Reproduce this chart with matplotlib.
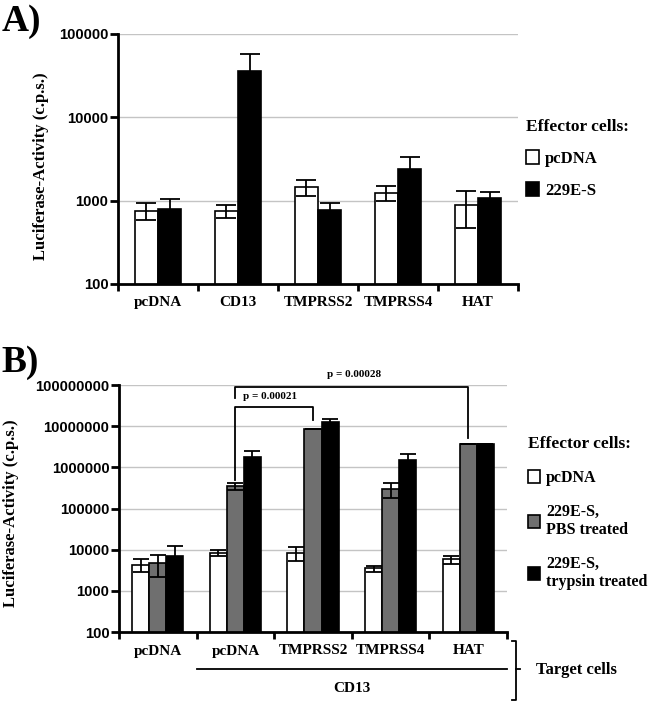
import numpy as np
import matplotlib.pyplot as plt
import matplotlib.transforms as mtransforms

# Panel A data
cats_a = ["pcDNA", "CD13", "TMPRSS2", "TMPRSS4", "HAT"]
a_pcdna = [760, 750, 1450, 1230, 890]
a_pcdna_err = [180, 130, 320, 250, 420]
a_229e = [800, 36000, 770, 2420, 1080]
a_229e_err = [250, 20800, 160, 940, 190]

# Panel B data
cats_b = ["pcDNA", "pcDNA", "TMPRSS2", "TMPRSS4", "HAT"]
b_pcdna = [4300, 8500, 8500, 3500, 5800]
b_pcdna_err = [1500, 1300, 3300, 600, 1200]
b_pbs = [4800, 350000, 8700000, 300000, 3600000]
b_pbs_err = [2600, 70000, 0, 125000, 0]
b_tryp = [7200, 1800000, 12400000, 1500000, 3600000]
b_tryp_err = [5000, 700000, 2600000, 600000, 0]

SERIF = "Liberation Serif"
SANS = "Liberation Sans"
GRAY = "#6f6f6f"

fig = plt.figure(figsize=(6.5, 7.01), dpi=100)


def style_axis(ax, n, ymin, ymax, cats, label_xy):
    ax.set_yscale("log")
    ax.set_ylim(ymin, ymax)
    ax.set_xlim(-0.5, n - 0.5)
    for s in ["top", "right"]:
        ax.spines[s].set_visible(False)
    for s in ["left", "bottom"]:
        ax.spines[s].set_linewidth(2)
    decades = 10.0 ** np.arange(np.log10(ymin), np.log10(ymax) + 1)
    ax.set_yticks(decades)
    ax.set_yticklabels([str(int(d)) for d in decades])
    ax.yaxis.set_minor_locator(plt.NullLocator())
    ax.tick_params(axis="y", direction="out", length=6, width=2, pad=1)
    for lab in ax.get_yticklabels():
        lab.set_fontfamily(SANS)
        lab.set_fontweight("bold")
        lab.set_fontsize(10.7)
    for d in decades[1:]:
        ax.axhline(d, color="#c4c4c4", lw=1, zorder=0)
    ax.set_xticks(np.arange(n + 1) - 0.5)
    ax.set_xticklabels([])
    ax.tick_params(axis="x", which="major", direction="out", length=5, width=2)
    ax.set_xticks(np.arange(n), minor=True)
    ax.set_xticklabels(cats, minor=True, fontfamily=SERIF, fontweight="bold",
                       fontsize=11)
    ax.tick_params(axis="x", which="minor", length=0, pad=9)
    ax.set_ylabel("Luciferase-Activity (c.p.s.)", fontfamily=SERIF,
                  fontweight="bold", fontsize=12)
    ax.yaxis.set_label_coords(*label_xy)


# ---------- A ----------
axA = fig.add_axes([118 / 650, 1 - 284 / 701, 400 / 650, 250 / 701])
x = np.arange(len(cats_a))
w = 0.29
ekw = dict(elinewidth=1.3, capthick=1.3, ecolor="black")
b1 = axA.bar(x - w / 2, a_pcdna, w, yerr=a_pcdna_err, color="white",
             edgecolor="black", lw=1.2, capsize=7, error_kw=ekw, label="pcDNA", zorder=2)
b2 = axA.bar(x + w / 2, a_229e, w, yerr=a_229e_err, color="black",
             edgecolor="black", lw=1.2, capsize=7, error_kw=ekw, label="229E-S", zorder=2)
style_axis(axA, 5, 100, 100000, cats_a, (-0.1725, 0.472))
axA.legend(handles=[b1, b2], title="Effector cells:", loc="upper left",
           bbox_to_anchor=(1.02, 0.659), frameon=False, borderpad=0,
           prop=dict(family=SERIF, weight="bold", size=12),
           title_fontproperties=dict(family=SERIF, weight="bold", size=12.5),
           alignment="left", handlelength=0.75, handleheight=0.9,
           handletextpad=0.4, labelspacing=0.9, borderaxespad=0)
fig.text(0.002, 1 - 31 / 701, "A)", fontfamily=SERIF, fontweight="bold",
         fontsize=27, va="baseline")

# ---------- B ----------
axB = fig.add_axes([119 / 650, 1 - 632 / 701, 388 / 650, 247 / 701])
x = np.arange(len(cats_b))
w = 0.22
c1 = axB.bar(x - w, b_pcdna, w, yerr=b_pcdna_err, color="white",
             edgecolor="black", lw=1.2, capsize=5.5, error_kw=ekw, label="pcDNA", zorder=2)
c2 = axB.bar(x, b_pbs, w, yerr=b_pbs_err, color=GRAY, edgecolor="black",
             lw=1.2, capsize=5.5, error_kw=ekw, label="229E-S,\nPBS treated", zorder=2)
c3 = axB.bar(x + w, b_tryp, w, yerr=b_tryp_err, color="black",
             edgecolor="black", lw=1.2, capsize=5.5, error_kw=ekw,
             label="229E-S,\ntrypsin treated", zorder=2)
style_axis(axB, 5, 100, 100000000, cats_b, (-0.258, 0.479))
axB.legend(handles=[c1, c2, c3], title="Effector cells:", loc="upper left",
           bbox_to_anchor=(1.055, 0.792), frameon=False, borderpad=0,
           prop=dict(family=SERIF, weight="bold", size=11.5),
           title_fontproperties=dict(family=SERIF, weight="bold", size=12.5),
           alignment="left", handlelength=0.7, handleheight=0.9,
           handletextpad=0.4, labelspacing=1.1, borderaxespad=0)
fig.text(0.002, 1 - 372 / 701, "B)", fontfamily=SERIF, fontweight="bold",
         fontsize=27, va="baseline")

# significance brackets
lk = dict(color="black", lw=1.3, clip_on=False, zorder=3)
axB.plot([1, 1, 2, 2], [5.0e5, 2.9e7, 2.9e7, 1.4e7], **lk)
axB.plot([1, 1, 4, 4], [4.7e7, 9.1e7, 9.1e7, 5.2e6], **lk)
axB.text(1.44, 5.3e7, "p = 0.00021", ha="center", va="center", fontfamily=SERIF,
         fontweight="bold", fontsize=8)
axB.text(2.53, 1.8e8, "p = 0.00028", ha="center", va="center", fontfamily=SERIF,
         fontweight="bold", fontsize=8, clip_on=False)

# CD13 group line and target-cells brace
trB = mtransforms.blended_transform_factory(axB.transData, axB.transAxes)
axB.plot([0.5, 4.5], [-0.150, -0.150], transform=trB, **lk)
axB.text(2.5, -0.229, "CD13", transform=trB, ha="center", va="center",
         fontfamily=SERIF, fontweight="bold", fontsize=11)
axB.plot([1.012, 1.022, 1.022, 1.012], [-0.035, -0.035, -0.276, -0.276],
         transform=axB.transAxes, **lk)
axB.plot([1.022, 1.034], [-0.150, -0.150], transform=axB.transAxes, **lk)
axB.text(1.075, -0.155, "Target cells", transform=axB.transAxes, ha="left",
         va="center", fontfamily=SERIF, fontweight="bold", fontsize=12)

plt.savefig("out.png")
